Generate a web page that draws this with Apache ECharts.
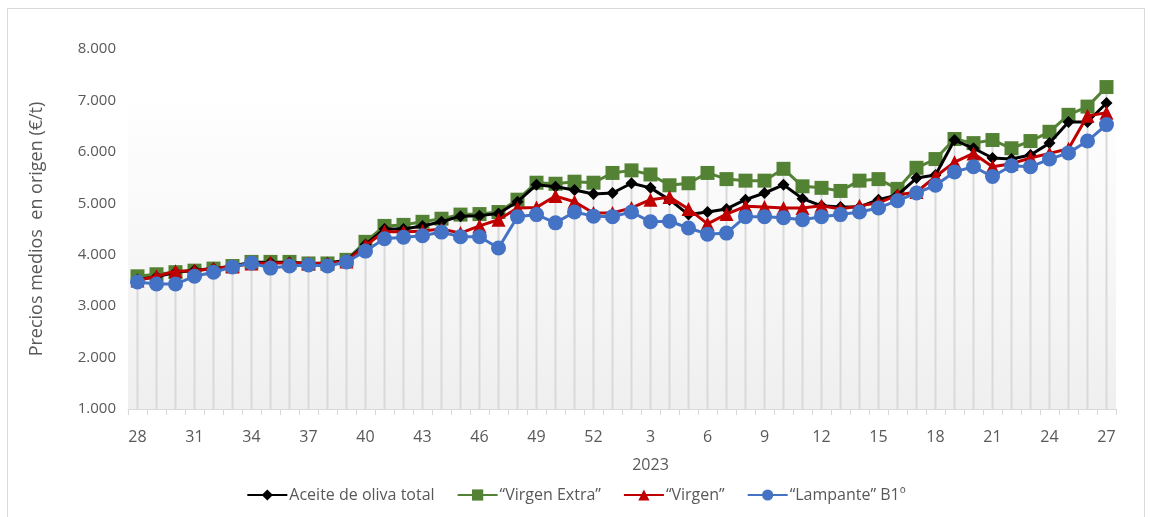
<!DOCTYPE html>
<html>
<head>
<meta charset="utf-8">
<script src="https://cdn.jsdelivr.net/npm/echarts@6/dist/echarts.min.js"></script>
<style>
html,body{margin:0;padding:0;background:#fff;}
#frame{position:absolute;left:7px;top:8px;width:1138px;height:520px;border:1px solid #d9d9d9;box-sizing:border-box;}
#chart{position:absolute;left:0;top:0;width:1152px;height:517px;}
</style>
</head>
<body>
<div id="frame"></div>
<div id="chart"></div>
<script>
const weeks = ["28","29","30","31","32","33","34","35","36","37","38","39","40","41","42","43","44","45","46","47","48","49","50","51","52",
  "1","2","3","4","5","6","7","8","9","10","11","12","13","14","15","16","17","18","19","20","21","22","23","24","25","26","27"];
const yearLabel = "2023";
const yearLabelWeekIndex = 27;
const seriesNames = ["Aceite de oliva total","\u201cVirgen Extra\u201d","\u201cVirgen\u201d","\u201cLampante\u201d B1\u00ba"];
const total = [3520,3570,3660,3700,3730,3770,3850,3850,3850,3830,3840,3890,4200,4500,4500,4560,4640,4750,4760,4800,5030,5360,5320,5260,5180,
  5200,5390,5300,5070,4780,4830,4890,5070,5200,5360,5090,4950,4930,4930,5070,5160,5490,5550,6230,6070,5880,5860,5940,6170,6580,6580,6950];
const virgenExtra = [3580,3620,3660,3690,3730,3780,3860,3860,3860,3830,3830,3900,4250,4560,4580,4640,4700,4780,4790,4830,5070,5400,5380,5420,5400,
  5590,5640,5560,5350,5390,5590,5470,5440,5440,5670,5330,5300,5240,5440,5470,5280,5690,5860,6250,6170,6230,6070,6210,6390,6720,6880,7260];
const virgen = [3500,3580,3680,3690,3730,3770,3830,3840,3840,3830,3830,3870,4180,4450,4440,4460,4500,4420,4560,4680,4910,4920,5140,5030,4810,
  4810,4910,5070,5120,4890,4600,4790,4940,4930,4910,4910,4950,4890,4950,5010,5160,5220,5520,5800,5970,5710,5770,5880,5970,6060,6700,6760];
const lampante = [3470,3430,3430,3580,3660,3760,3840,3740,3780,3800,3780,3860,4070,4310,4340,4370,4440,4350,4350,4130,4740,4780,4620,4830,4750,
  4740,4830,4640,4650,4520,4400,4420,4740,4740,4720,4680,4740,4780,4830,4910,5050,5200,5350,5610,5710,5520,5730,5710,5860,5980,6210,6530];
const yTicks = [1000,2000,3000,4000,5000,6000,7000,8000];

const dropTops = weeks.map((w,i)=>Math.max(total[i],virgenExtra[i],virgen[i],lampante[i]));
const fmt = v => (v/1000).toFixed(3);
const font = '"Open Sans", "Noto Sans", sans-serif';
const txt = '#595959';

const chart = echarts.init(document.getElementById('chart'));
function lineSeries(name, data, color, symbol, size, z){
  return {name, type:'line', data, symbol, symbolSize:size, z, showAllSymbol:true,
    lineStyle:{color, width:3}, itemStyle:{color, borderColor:color, borderWidth:0},
    emphasis:{disabled:true}, animation:false};
}
chart.setOption({
  animation:false,
  grid:{left:128, right:36, top:49, bottom:108, show:true, borderWidth:0,
    backgroundColor:{type:'linear',x:0,y:0,x2:0,y2:1,colorStops:[{offset:0,color:'#ffffff'},{offset:0.12,color:'#ffffff'},{offset:1,color:'#efefef'}]}},
  legend:{bottom:9, left:'center', itemWidth:40, itemHeight:14, itemGap:22,
    data:seriesNames, textStyle:{fontFamily:font, fontSize:16, color:txt, padding:[0,0,0,-3]}},
  xAxis:{type:'category', data:weeks, boundaryGap:true,
    axisLine:{lineStyle:{color:'#d9d9d9', width:1}},
    axisTick:{show:true, interval:0, length:6, lineStyle:{color:'#d9d9d9'}},
    axisLabel:{interval:2, margin:14, fontFamily:font, fontSize:16, color:txt, lineHeight:28,
      formatter:(v,i)=> i===yearLabelWeekIndex ? v+'\n'+yearLabel : v},
    splitLine:{show:false}},
  yAxis:{type:'value', min:yTicks[0], max:yTicks[yTicks.length-1], interval:1000,
    name:'Precios medios  en origen (\u20ac/t)', nameLocation:'middle', nameGap:82,
    nameTextStyle:{fontFamily:font, fontSize:18, color:txt},
    axisLine:{show:false}, axisTick:{show:false}, splitLine:{show:false},
    axisLabel:{formatter:fmt, fontFamily:font, fontSize:15, color:txt, margin:12}},
  series:[
    {name:'drop', type:'bar', data:dropTops, barWidth:2, itemStyle:{color:'#d9d9d9'}, silent:true, z:1},
    lineSeries(seriesNames[0], total, '#000000', 'diamond', 12, 5),
    lineSeries(seriesNames[1], virgenExtra, '#548235', 'rect', 14, 4),
    lineSeries(seriesNames[2], virgen, '#c00000', 'triangle', 14, 6),
    lineSeries(seriesNames[3], lampante, '#4472c4', 'circle', 15, 7)
  ]
});
</script>
</body>
</html>
